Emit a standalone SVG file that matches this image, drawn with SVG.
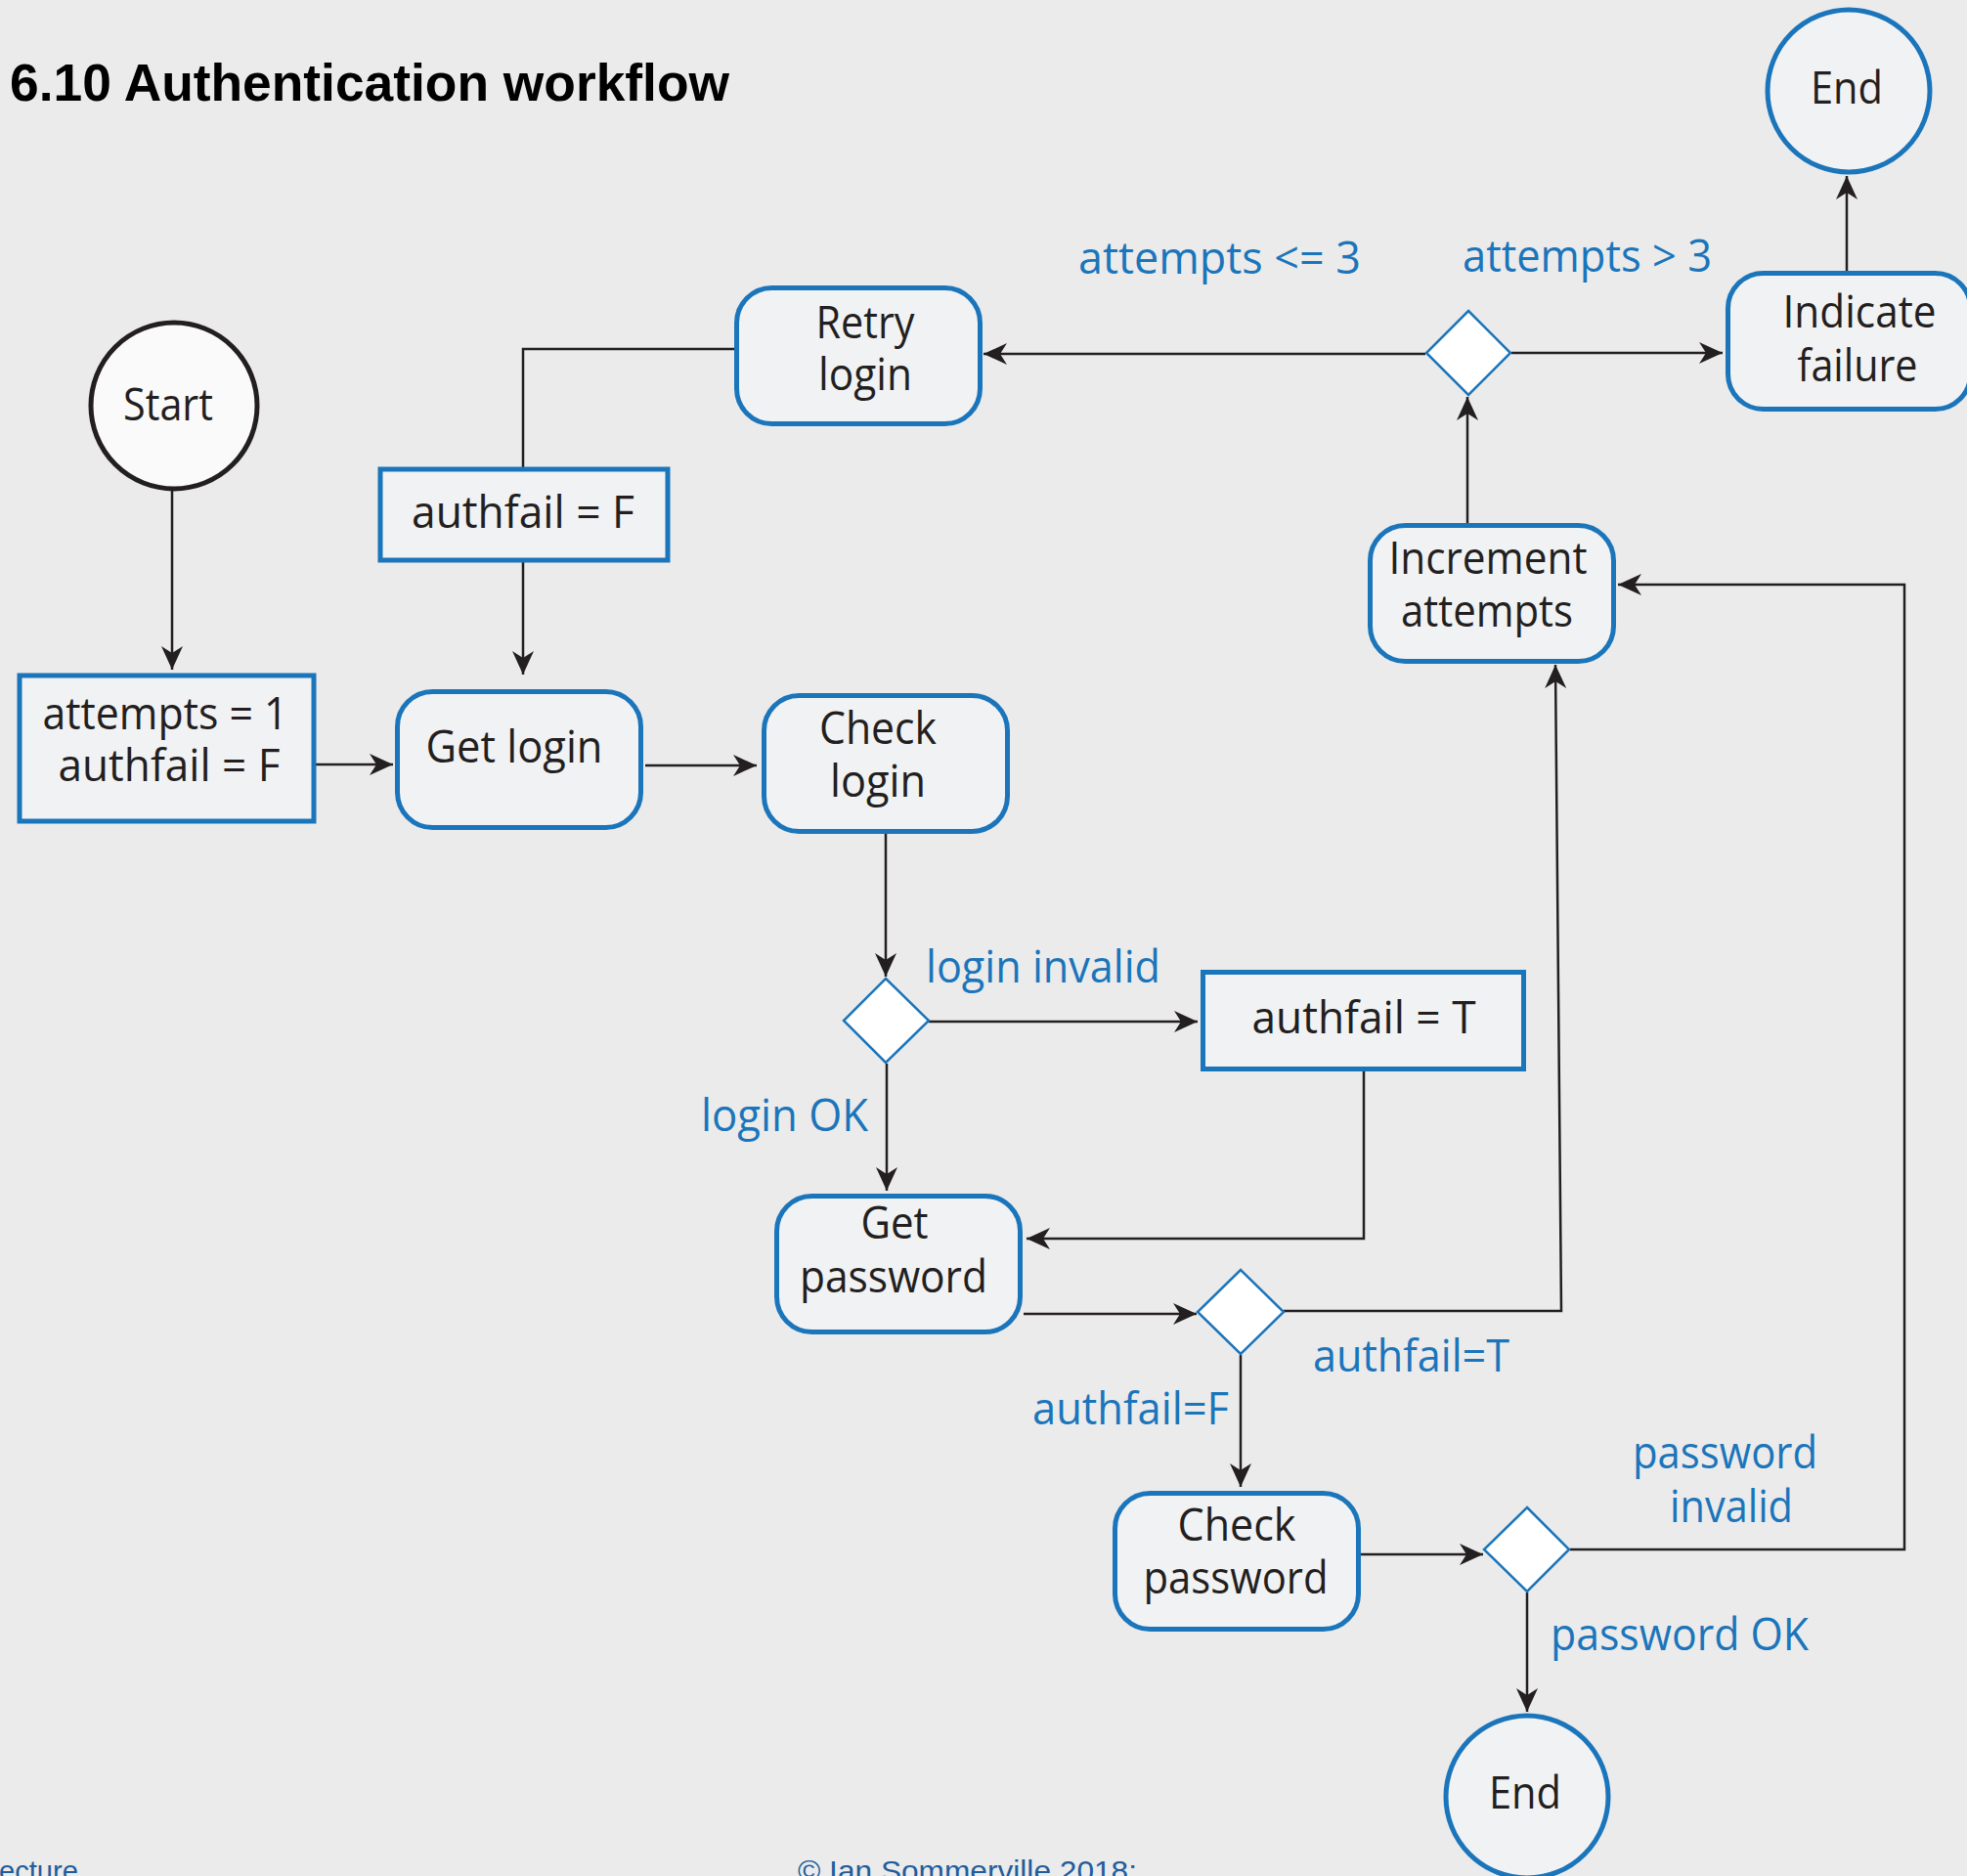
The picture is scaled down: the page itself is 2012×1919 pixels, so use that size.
<svg xmlns="http://www.w3.org/2000/svg" width="2012" height="1919" viewBox="0 0 2012 1919">
<defs>
<style>
.bg{fill:#ebebeb}
.node{fill:#f1f2f4;stroke:#1b75bb;stroke-width:5}
.start{fill:#fafafa;stroke:#231f20;stroke-width:5}
.dia{fill:#ffffff;stroke:#1b75bb;stroke-width:2.5}
.t{font-family:"Open Sans","Noto Sans",sans-serif;font-size:46px;fill:#231f20;text-anchor:middle}
.lbl{font-family:"Open Sans","Noto Sans",sans-serif;font-size:46px;fill:#1b75bb}
.title{font-family:"Liberation Sans",Arial,sans-serif;font-weight:bold;font-size:54px;fill:#000}
.foot{font-family:"Liberation Sans",Arial,sans-serif;font-size:30px;fill:#215d9c}
.c{fill:none;stroke:#231f20;stroke-width:2.5}
.a{marker-end:url(#ah)}
</style>
<marker id="ah" viewBox="-26 -13 28 26" refX="0" refY="0" markerWidth="28" markerHeight="26" markerUnits="userSpaceOnUse" orient="auto">
<path d="M0,0 L-24,-11 L-17,0 L-24,11 Z" fill="#231f20"/>
</marker>
</defs>
<rect class="bg" x="0" y="0" width="2012" height="1919"/>
<text class="title" x="10" y="103" textLength="736" lengthAdjust="spacingAndGlyphs">6.10 Authentication workflow</text>

<g id="connectors">
<path class="c a" d="M176,502 L176,685"/>
<path class="c a" d="M323,782 L402,782"/>
<path class="c a" d="M660,783 L774,783"/>
<path class="c a" d="M906,853 L906,999"/>
<path class="c a" d="M950,1045 L1225,1045"/>
<path class="c a" d="M1395,1096 L1395,1267 L1050,1267"/>
<path class="c a" d="M907,1088 L907,1218"/>
<path class="c a" d="M1047,1344 L1224,1344"/>
<path class="c a" d="M1313,1341 L1597,1341 L1591,680"/>
<path class="c a" d="M1269,1386 L1269,1521"/>
<path class="c a" d="M1391,1590 L1517,1590"/>
<path class="c a" d="M1606,1585 L1948,1585 L1948,598 L1655,598"/>
<path class="c a" d="M1562,1629 L1562,1751"/>
<path class="c a" d="M1501,535 L1501,406"/>
<path class="c a" d="M1546,361 L1762,361"/>
<path class="c a" d="M1889,277 L1889,180"/>
<path class="c a" d="M1458,362 L1006,362"/>
<path class="c" d="M751,357 L535,357 L535,478"/>
<path class="c a" d="M535,575 L535,690"/>
</g>

<g id="start">
<circle class="start" cx="178" cy="415" r="85"/>
<text class="t" x="172" y="430" textLength="92" lengthAdjust="spacingAndGlyphs">Start</text>
</g>
<g id="init">
<rect class="node" x="20" y="691" width="301" height="149"/>
<text class="t" x="169" y="746" textLength="251" lengthAdjust="spacingAndGlyphs">attempts = 1</text>
<text class="t" x="173" y="799" textLength="227" lengthAdjust="spacingAndGlyphs">authfail = F</text>
</g>
<g id="get-login">
<rect class="node" x="406.5" y="707.5" width="249" height="139" rx="36"/>
<text class="t" x="526" y="780" textLength="181" lengthAdjust="spacingAndGlyphs">Get login</text>
</g>
<g id="check-login">
<rect class="node" x="781.5" y="711.5" width="249" height="139" rx="36"/>
<text class="t" x="898" y="761" textLength="120" lengthAdjust="spacingAndGlyphs">Check</text>
<text class="t" x="898" y="815" textLength="98" lengthAdjust="spacingAndGlyphs">login</text>
</g>
<g id="reset-authfail">
<rect class="node" x="389" y="480" width="294" height="93"/>
<text class="t" x="535" y="540" textLength="228" lengthAdjust="spacingAndGlyphs">authfail = F</text>
</g>
<g id="retry-login">
<rect class="node" x="753.5" y="294.5" width="249" height="139" rx="36"/>
<text class="t" x="885" y="346" textLength="101" lengthAdjust="spacingAndGlyphs">Retry</text>
<text class="t" x="885" y="399" textLength="96" lengthAdjust="spacingAndGlyphs">login</text>
</g>
<g id="login-decision">
<polygon class="dia" points="906,1001 950,1044 906,1087 863,1044"/>
</g>
<g id="set-authfail">
<rect class="node" x="1230.5" y="994.5" width="328" height="99"/>
<text class="t" x="1395" y="1057" textLength="229" lengthAdjust="spacingAndGlyphs">authfail = T</text>
</g>
<g id="get-password">
<rect class="node" x="794.5" y="1223.5" width="249" height="139" rx="36"/>
<text class="t" x="915" y="1267" textLength="69" lengthAdjust="spacingAndGlyphs">Get</text>
<text class="t" x="914" y="1322" textLength="192" lengthAdjust="spacingAndGlyphs">password</text>
</g>
<g id="authfail-decision">
<polygon class="dia" points="1269,1299 1313,1342 1269,1385 1225,1342"/>
</g>
<g id="check-password">
<rect class="node" x="1140.5" y="1527.5" width="249" height="139" rx="36"/>
<text class="t" x="1265" y="1576" textLength="121" lengthAdjust="spacingAndGlyphs">Check</text>
<text class="t" x="1264" y="1630" textLength="189" lengthAdjust="spacingAndGlyphs">password</text>
</g>
<g id="password-decision">
<polygon class="dia" points="1562,1542 1605,1585 1562,1628 1518,1585"/>
</g>
<g id="end-ok">
<circle class="node" cx="1562" cy="1838" r="83"/>
<text class="t" x="1560" y="1850" textLength="74" lengthAdjust="spacingAndGlyphs">End</text>
</g>
<g id="increment-attempts">
<rect class="node" x="1401.5" y="537.5" width="249" height="139" rx="36"/>
<text class="t" x="1522" y="587" textLength="203" lengthAdjust="spacingAndGlyphs">Increment</text>
<text class="t" x="1521" y="641" textLength="176" lengthAdjust="spacingAndGlyphs">attempts</text>
</g>
<g id="attempts-decision">
<polygon class="dia" points="1502,318 1545,361 1502,404 1459,361"/>
</g>
<g id="indicate-failure">
<rect class="node" x="1767.5" y="279.5" width="248" height="139" rx="36"/>
<text class="t" x="1902" y="335" textLength="157" lengthAdjust="spacingAndGlyphs">Indicate</text>
<text class="t" x="1900" y="390" textLength="123" lengthAdjust="spacingAndGlyphs">failure</text>
</g>
<g id="end-fail">
<circle class="node" cx="1891" cy="93" r="83"/>
<text class="t" x="1889" y="106" textLength="74" lengthAdjust="spacingAndGlyphs">End</text>
</g>

<g id="labels">
<text class="lbl" x="1103" y="280" textLength="289" lengthAdjust="spacingAndGlyphs">attempts &lt;= 3</text>
<text class="lbl" x="1496" y="278" textLength="255" lengthAdjust="spacingAndGlyphs">attempts &gt; 3</text>
<text class="lbl" x="947" y="1005" textLength="240" lengthAdjust="spacingAndGlyphs">login invalid</text>
<text class="lbl" x="717" y="1157" textLength="171" lengthAdjust="spacingAndGlyphs">login OK</text>
<text class="lbl" x="1343" y="1403" textLength="201" lengthAdjust="spacingAndGlyphs">authfail=T</text>
<text class="lbl" x="1056" y="1457" textLength="201" lengthAdjust="spacingAndGlyphs">authfail=F</text>
<text class="lbl" x="1670" y="1502" textLength="189" lengthAdjust="spacingAndGlyphs">password</text>
<text class="lbl" x="1708" y="1557" textLength="126" lengthAdjust="spacingAndGlyphs">invalid</text>
<text class="lbl" x="1586" y="1688" textLength="264" lengthAdjust="spacingAndGlyphs">password OK</text>
</g>

<text class="foot" x="-1" y="1924" textLength="81" lengthAdjust="spacingAndGlyphs">ecture</text>
<text class="foot" x="816" y="1924" textLength="347" lengthAdjust="spacingAndGlyphs">© Ian Sommerville 2018:</text>
</svg>
